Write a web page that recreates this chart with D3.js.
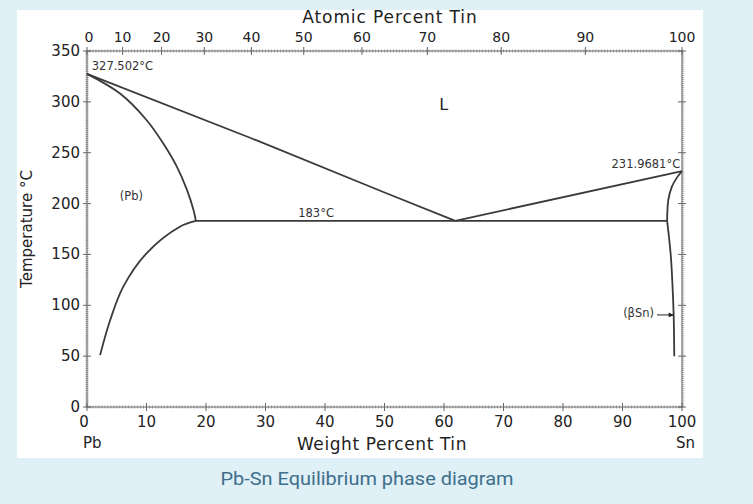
<!DOCTYPE html>
<html><head><meta charset="utf-8">
<script src="https://cdn.jsdelivr.net/npm/d3@7/dist/d3.min.js"></script>
<style>
html,body{margin:0;padding:0;background:#dff0f7;}
svg{display:block;}
</style></head>
<body>
<svg id="c" width="753" height="504"></svg>
<script>
// ---- data (weight % Sn, temperature °C) ----
const liquidusPb = [[0,327.5],[27.5,264.5],[49.8,211.4],[61.9,183]];
const solidusPb  = [[0,327.5],[5.5,308.4],[10.0,282.2],[12.8,259.3],[15.1,236.3],[16.8,213.4],[17.9,193.7],[18.3,183]];
const solvusPb   = [[18.3,183],[15.6,177.3],[10.0,151.1],[6.1,118.3],[3.9,85.5],[2.2,51]];
const liquidusSn = [[61.9,183],[100,231.97]];
const solidusSn  = [[100,231.97],[99.2,226],[98.3,216.6],[97.7,203.5],[97.5,183]];
const solvusSn   = [[97.5,183],[98.1,150],[98.4,120],[98.6,90],[98.7,50]];
const eutectic   = [[18.3,183],[97.5,183]];
const tempTicks  = [0,50,100,150,200,250,300,350];
const wtTicks    = [0,10,20,30,40,50,60,70,80,90,100];
const atTicks    = [0,10,20,30,40,50,60,70,80,90,100];
const annotations = [
  {text:"327.502°C", wt:0.8, T:331.5, anchor:"start"},
  {text:"(Pb)", wt:5.5, T:204, anchor:"start"},
  {text:"183°C", wt:35.5, T:187, anchor:"start"},
  {text:"231.9681°C", wt:99.7, T:235, anchor:"end"},
  {text:"(βSn)", wt:95.3, T:88.5, anchor:"end"}
];
const arrowSn = {from:95.8, to:98.6, T:90.5};

const svg = d3.select("#c");
// white panel
svg.append("rect").attr("x",17).attr("y",10).attr("width",686).attr("height",448).attr("fill","#ffffff");

const x = d3.scaleLinear().domain([0,100]).range([87,682]);
const y = d3.scaleLinear().domain([0,350]).range([407,51]);
const MSn = 118.71, MPb = 207.2;
const atToWt = a => a===0?0:100*a*MSn/(a*MSn+(100-a)*MPb);

const axisCol = "#666";
const g = svg.append("g");

// minor ticks
const minorT = d3.range(0,351,2);
const minorW = d3.range(0,100.01,0.5);
g.selectAll(".mtl").data(minorT).join("line")
  .attr("x1",x(0)-1.6).attr("x2",x(0)+1.6).attr("y1",d=>y(d)).attr("y2",d=>y(d))
  .attr("stroke","#999").attr("stroke-width",0.8);
g.selectAll(".mtr").data(minorT).join("line")
  .attr("x1",x(100)-0.5).attr("x2",x(100)+2.2).attr("y1",d=>y(d)).attr("y2",d=>y(d))
  .attr("stroke","#999").attr("stroke-width",0.8);
g.selectAll(".mwb").data(minorW).join("line")
  .attr("y1",y(0)-1.6).attr("y2",y(0)+1.6).attr("x1",d=>x(d)).attr("x2",d=>x(d))
  .attr("stroke","#999").attr("stroke-width",0.8);
g.selectAll(".mwt").data(minorW).join("line")
  .attr("y1",y(350)-1.6).attr("y2",y(350)+1.6).attr("x1",d=>x(d)).attr("x2",d=>x(d))
  .attr("stroke","#999").attr("stroke-width",0.8);

// frame
g.append("rect").attr("x",x(0)).attr("y",y(350)).attr("width",x(100)-x(0)).attr("height",y(0)-y(350))
  .attr("fill","none").attr("stroke",axisCol).attr("stroke-width",1);

// major ticks
g.selectAll(".tl").data(tempTicks).join("line")
  .attr("x1",x(0)-4).attr("x2",x(0)+4).attr("y1",d=>y(d)).attr("y2",d=>y(d)).attr("stroke",axisCol);
g.selectAll(".tr").data(tempTicks).join("line")
  .attr("x1",x(100)-4).attr("x2",x(100)+4).attr("y1",d=>y(d)).attr("y2",d=>y(d)).attr("stroke",axisCol);
g.selectAll(".wb").data(wtTicks).join("line")
  .attr("y1",y(0)-4).attr("y2",y(0)+4).attr("x1",d=>x(d)).attr("x2",d=>x(d)).attr("stroke",axisCol);
g.selectAll(".at").data(atTicks).join("line")
  .attr("y1",y(350)-4).attr("y2",y(350)+4).attr("x1",d=>x(atToWt(d))).attr("x2",d=>x(atToWt(d))).attr("stroke",axisCol);

const font = "'DejaVu Sans', sans-serif";
// tick labels
g.selectAll(".tll").data(tempTicks).join("text")
  .attr("x",x(0)-7).attr("y",d=>y(d)+5).attr("text-anchor","end")
  .attr("font-family",font).attr("font-size",15).attr("fill","#222").text(d=>d);
g.selectAll(".wbl").data(wtTicks).join("text")
  .attr("x",d=>x(d)-(d===0?3:0)).attr("y",427).attr("text-anchor","middle")
  .attr("font-family",font).attr("font-size",15).attr("fill","#222").text(d=>d);
g.selectAll(".atl").data(atTicks).join("text")
  .attr("x",d=>x(atToWt(d))+(d===0?2:0)).attr("y",41.5).attr("text-anchor","middle")
  .attr("font-family",font).attr("font-size",14).attr("fill","#222").text(d=>d);

// axis titles
g.append("text").attr("x",390).attr("y",22.5).attr("text-anchor","middle")
  .attr("font-family",font).attr("font-size",17).attr("letter-spacing",0.9).attr("fill","#222").text("Atomic Percent Tin");
g.append("text").attr("x",382).attr("y",450).attr("text-anchor","middle")
  .attr("font-family",font).attr("font-size",17).attr("letter-spacing",0.6).attr("fill","#222").text("Weight Percent Tin");
g.append("text").attr("transform","translate(32,229) rotate(-90)").attr("text-anchor","middle")
  .attr("font-family",font).attr("font-size",15).attr("fill","#222").text("Temperature °C");
g.append("text").attr("x",83).attr("y",448).attr("font-family",font).attr("font-size",15).attr("fill","#222").text("Pb");
g.append("text").attr("x",695).attr("y",448).attr("text-anchor","end").attr("font-family",font).attr("font-size",15).attr("fill","#222").text("Sn");

// curves
const curveCol = "#3a3a3a";
const straight = d3.line().x(d=>x(d[0])).y(d=>y(d[1]));
const smooth = d3.line().x(d=>x(d[0])).y(d=>y(d[1])).curve(d3.curveCatmullRom.alpha(0.5));
[[liquidusPb,straight],[solidusPb,smooth],[solvusPb,smooth],[liquidusSn,straight],[solidusSn,smooth],[solvusSn,smooth],[eutectic,straight]].forEach(([arr,ln])=>{
  g.append("path").datum(arr).attr("d",ln).attr("fill","none")
   .attr("stroke",curveCol).attr("stroke-width",1.8).attr("stroke-linejoin","round");
});

// annotations
g.selectAll(".ann").data(annotations).join("text")
  .attr("x",d=>x(d.wt)).attr("y",d=>y(d.T)).attr("text-anchor",d=>d.anchor)
  .attr("font-family",font).attr("font-size",11.5).attr("fill","#333").text(d=>d.text);
g.append("text").attr("x",x(59.2)).attr("y",y(292)).attr("font-family",font).attr("font-size",16).attr("fill","#222").text("L");

// arrow to beta-Sn
const defs = svg.append("defs");
defs.append("marker").attr("id","ah").attr("viewBox","0 0 10 10").attr("refX",10).attr("refY",5)
  .attr("markerWidth",6).attr("markerHeight",5).attr("orient","auto")
  .append("path").attr("d","M0,0 L10,5 L0,10 z").attr("fill","#222");
g.append("line").attr("x1",x(arrowSn.from)).attr("x2",x(arrowSn.to)).attr("y1",y(arrowSn.T)).attr("y2",y(arrowSn.T))
  .attr("stroke","#222").attr("stroke-width",1).attr("marker-end","url(#ah)");

// caption
svg.append("text").attr("x",367).attr("y",485).attr("text-anchor","middle")
  .attr("font-family","Roboto, sans-serif").attr("font-size",19).attr("fill","#3d6f8b")
  .attr("textLength",293).attr("lengthAdjust","spacingAndGlyphs").text("Pb-Sn Equilibrium phase diagram");
</script>
</body></html>
